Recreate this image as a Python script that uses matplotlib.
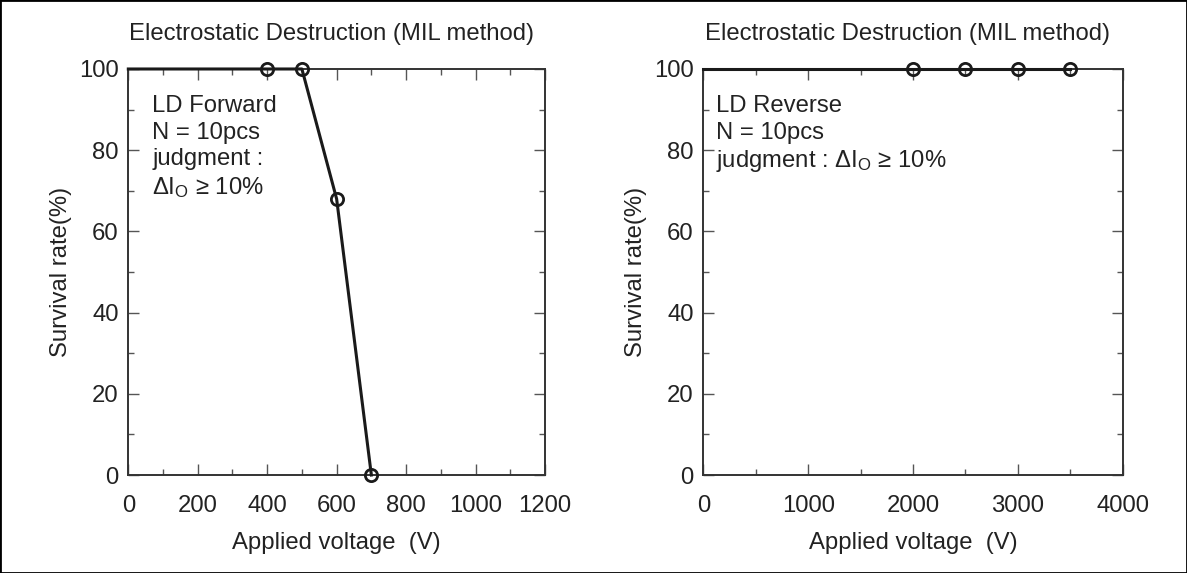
import matplotlib
matplotlib.use("Agg")
import matplotlib.pyplot as plt
from matplotlib.patches import Rectangle
from matplotlib.ticker import MultipleLocator

plt.rcParams['font.family'] = ['Liberation Sans', 'DejaVu Sans']
plt.rcParams['mathtext.fontset'] = 'custom'
plt.rcParams['mathtext.rm'] = 'Liberation Sans'
plt.rcParams['mathtext.it'] = 'Liberation Sans:italic'

# data
fwd_line_x = [0, 400, 500, 600, 700]
fwd_line_y = [100, 100, 100, 68, 0]
fwd_x = [400, 500, 600, 700]
fwd_y = [100, 100, 68, 0]

rev_line_x = [0, 2000, 2500, 3000, 3500]
rev_line_y = [100, 100, 100, 100, 100]
rev_x = [2000, 2500, 3000, 3500]
rev_y = [100, 100, 100, 100]

title = "Electrostatic Destruction (MIL method)"
fwd_note = "LD Forward\nN = 10pcs\njudgment :\n$\\Delta$I$_\\mathrm{O}$ ≥ 10%"
rev_note = "LD Reverse\nN = 10pcs\njudgment : $\\Delta$I$_\\mathrm{O}$ ≥ 10%"

txt = "#222222"
fs = 17.2

fig = plt.figure(figsize=(11.87, 5.73), dpi=100)
ax1 = fig.add_axes([0.1081, 0.1710, 0.3510, 0.7086])
ax2 = fig.add_axes([0.5925, 0.1710, 0.3533, 0.7086])


def style(ax, xmax, xmajor, xminor):
    ax.set_xlim(0, xmax)
    ax.set_ylim(0, 100)
    ax.xaxis.set_major_locator(MultipleLocator(xmajor))
    ax.xaxis.set_minor_locator(MultipleLocator(xminor))
    ax.yaxis.set_major_locator(MultipleLocator(20))
    ax.yaxis.set_minor_locator(MultipleLocator(10))
    ax.tick_params(which="both", direction="in", top=True, right=True,
                   color="#555555", width=1.0, labelsize=fs, labelcolor=txt)
    ax.tick_params(which="major", length=8)
    ax.tick_params(which="minor", length=4.5)
    ax.tick_params(axis="x", pad=14.5)
    ax.tick_params(axis="y", pad=7)
    for s in ax.spines.values():
        s.set_linewidth(1.4)
        s.set_color("#333333")
    ax.set_title(title, fontsize=fs, color=txt, pad=21, x=0.487)
    ax.set_xlabel("Applied voltage  (V)", fontsize=fs, color=txt, labelpad=11)
    ax.set_ylabel("Survival rate(%)", fontsize=fs, color=txt, labelpad=5)


style(ax1, 1200, 200, 100)
style(ax2, 4000, 1000, 500)

for ax, lx, ly, mx, my in [(ax1, fwd_line_x, fwd_line_y, fwd_x, fwd_y),
                           (ax2, rev_line_x, rev_line_y, rev_x, rev_y)]:
    ax.plot(lx, ly, color="#1a1a1a", lw=2.2, clip_on=False, zorder=3)
    ax.plot(mx, my, "o", ms=8.8, mfc="none", mec="#1a1a1a", mew=2.0,
            clip_on=False, zorder=4)

ax1.text(0.057, 0.935, fwd_note, transform=ax1.transAxes, fontsize=fs,
         color=txt, va="top", ha="left", linespacing=1.25)
ax2.text(0.030, 0.935, rev_note, transform=ax2.transAxes, fontsize=fs,
         color=txt, va="top", ha="left", linespacing=1.25)

fig.patches.append(Rectangle((0, 0), 1, 1, transform=fig.transFigure,
                             fill=False, edgecolor="black", lw=2.0))

fig.savefig("out.png", dpi=100)
